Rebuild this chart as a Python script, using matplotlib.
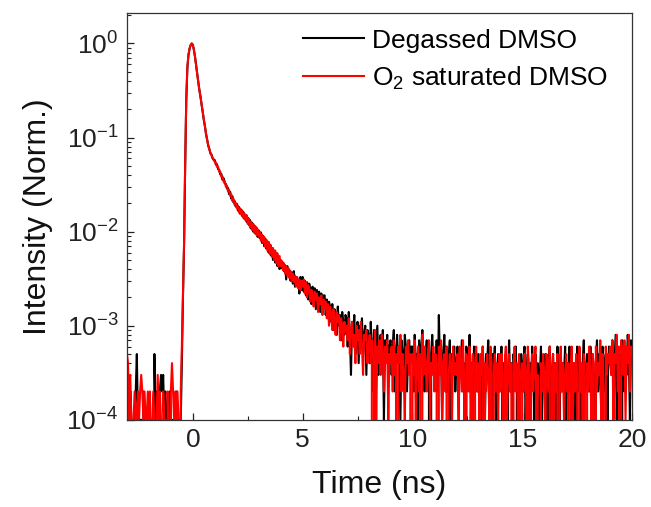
import numpy as np
import matplotlib
matplotlib.use("Agg")
import matplotlib.pyplot as plt
from matplotlib.ticker import LogLocator, MultipleLocator, NullFormatter

plt.rcParams["font.family"] = ["Liberation Sans", "DejaVu Sans"]
plt.rcParams["mathtext.fontset"] = "custom"
plt.rcParams["mathtext.rm"] = "Liberation Sans"
plt.rcParams["mathtext.it"] = "Liberation Sans:italic"
plt.rcParams["axes.unicode_minus"] = False

# TCSPC histogram, channel width 0.05 ns starting at -3 ns (counts)
t_start = -3.0
channel_ns = 0.05

degassed_counts = [
    1, 1, 0, 2, 1, 0, 1, 1, 2, 5, 1, 0, 1, 1, 0, 2, 1, 0, 1, 0,
    1, 0, 1, 1, 0, 5, 1, 2, 1, 0, 2, 3, 2, 3, 1, 2, 1, 0, 1, 2,
    1, 0, 1, 0, 1, 2, 0, 1, 1, 1, 4, 20, 70, 480, 2450, 5450, 7500, 8800, 9600, 10000,
    9680, 8530, 7170, 5830, 4690, 3830, 3170, 2720, 2230, 1870, 1530, 1320, 1090, 960, 820, 760, 680, 660, 600, 585,
    575, 515, 520, 462, 455, 405, 410, 356, 370, 326, 322, 288, 292, 250, 265, 224, 238, 204, 212, 185,
    198, 168, 183, 155, 172, 146, 162, 136, 151, 127, 141, 118, 133, 108, 124, 100, 116, 95, 110, 88,
    103, 85, 98, 76, 90, 70, 84, 66, 78, 60, 73, 56, 67, 50, 63, 47, 59, 43, 55, 40,
    50, 41, 47, 38, 44, 31, 43, 35, 39, 30, 37, 28, 38, 26, 33, 27, 31, 22, 33, 24,
    33, 23, 30, 21, 29, 19, 28, 24, 17, 26, 20, 25, 15, 24, 18, 23, 14, 22, 16, 21,
    21, 13, 19, 12, 18, 16, 11, 17, 9, 15, 14, 8, 16, 10, 13, 7, 14, 11, 8, 13,
    12, 6, 14, 8, 3, 11, 7, 13, 5, 9, 11, 4, 10, 7, 12, 5, 8, 10, 3, 9,
    8, 4, 11, 6, 2, 9, 5, 7, 10, 3, 6, 8, 4, 9, 1, 7, 5, 8, 3, 6,
    7, 3, 6, 9, 2, 5, 8, 4, 6, 1, 7, 5, 3, 8, 6, 2, 5, 7, 4, 6,
    6, 2, 8, 4, 5, 1, 7, 3, 6, 9, 4, 2, 5, 7, 3, 6, 0, 5, 8, 4,
    5, 3, 7, 2, 13, 4, 6, 1, 5, 8, 3, 6, 2, 4, 7, 0, 5, 3, 6, 2,
    4, 6, 1, 5, 3, 7, 2, 4, 0, 6, 5, 3, 8, 2, 4, 1, 6, 3, 5, 2,
    5, 2, 4, 0, 6, 3, 1, 5, 4, 7, 2, 3, 0, 5, 4, 6, 1, 3, 5, 2,
    3, 6, 1, 4, 2, 5, 0, 3, 7, 2, 4, 1, 5, 3, 6, 2, 0, 4, 3, 5,
    2, 4, 6, 1, 3, 5, 0, 4, 2, 6, 3, 1, 5, 2, 4, 0, 3, 6, 1, 4,
    3, 5, 2, 0, 4, 6, 1, 3, 5, 2, 4, 0, 6, 3, 1, 5, 2, 4, 3, 6,
    1, 4, 3, 6, 2, 5, 0, 4, 3, 1, 6, 2, 5, 3, 0, 4, 7, 2, 3, 5,
    4, 2, 6, 1, 5, 3, 0, 4, 7, 2, 5, 3, 1, 6, 4, 2, 5, 0, 3, 6,
    5, 3, 7, 2, 4, 8, 1, 6, 3, 5, 0, 7, 4, 2, 6, 3, 8, 5, 1, 7,
    6,
]

o2_counts = [
    5, 4, 1, 3, 1, 0, 1, 2, 1, 1, 2, 1, 2, 3, 2, 1, 2, 1, 1, 2,
    1, 2, 0, 1, 2, 1, 0, 1, 3, 1, 2, 1, 0, 2, 1, 1, 0, 2, 1, 0,
    2, 4, 2, 1, 2, 1, 2, 1, 0, 2, 6, 22, 75, 520, 2550, 5550, 7550, 8850, 9620, 10000,
    9690, 8490, 7220, 5790, 4710, 3810, 3190, 2690, 2260, 1840, 1560, 1290, 1110, 940, 840, 745, 695, 645, 615, 575,
    552, 540, 488, 490, 434, 436, 381, 388, 340, 346, 302, 309, 268, 278, 240, 249, 212, 224, 193, 202,
    178, 190, 160, 177, 152, 168, 140, 156, 132, 150, 121, 138, 111, 128, 104, 121, 97, 114, 92, 106,
    89, 100, 80, 93, 76, 88, 69, 82, 63, 78, 58, 72, 54, 67, 50, 63, 46, 59, 43, 55,
    43, 49, 39, 46, 36, 43, 34, 41, 32, 38, 30, 36, 29, 34, 26, 33, 25, 31, 24, 30,
    26, 31, 22, 29, 20, 27, 25, 18, 24, 21, 16, 23, 19, 22, 14, 20, 17, 21, 13, 19,
    15, 18, 12, 17, 10, 16, 13, 9, 15, 12, 8, 14, 11, 13, 7, 12, 10, 6, 11, 9,
    10, 7, 12, 5, 9, 11, 6, 8, 4, 10, 7, 9, 5, 11, 6, 3, 8, 7, 9, 4,
    6, 8, 4, 7, 0, 5, 9, 1, 6, 4, 7, 3, 8, 5, 2, 6, 4, 7, 1, 5,
    4, 6, 2, 7, 3, 5, 0, 6, 4, 8, 2, 5, 3, 1, 6, 4, 7, 3, 5, 0,
    5, 3, 7, 1, 4, 6, 2, 5, 0, 8, 3, 6, 4, 2, 5, 7, 1, 4, 3, 6,
    2, 5, 4, 0, 6, 3, 7, 1, 4, 5, 2, 6, 0, 3, 5, 4, 1, 6, 3, 4,
    3, 5, 1, 6, 4, 2, 7, 3, 0, 5, 4, 2, 6, 1, 3, 5, 0, 4, 6, 2,
    4, 1, 5, 3, 6, 0, 4, 2, 5, 3, 1, 6, 4, 0, 3, 5, 2, 4, 1, 5,
    2, 5, 3, 0, 4, 6, 1, 3, 5, 2, 4, 0, 3, 6, 2, 4, 1, 5, 3, 0,
    4, 2, 5, 3, 1, 6, 4, 0, 3, 5, 2, 4, 6, 1, 3, 0, 0, 4, 2, 5,
    3, 1, 5, 4, 2, 6, 0, 3, 5, 1, 4, 2, 5, 0, 3, 6, 2, 4, 1, 3,
    5, 2, 4, 0, 3, 6, 1, 4, 2, 5, 3, 0, 6, 2, 4, 1, 5, 3, 0, 4,
    2, 6, 3, 1, 5, 4, 0, 6, 2, 4, 3, 7, 1, 5, 2, 0, 6, 3, 5, 4,
    6, 3, 7, 1, 5, 4, 8, 2, 6, 0, 7, 5, 3, 7, 1, 6, 4, 8, 2, 6,
    5,
]

labels = ["Degassed DMSO", "O$_2$ saturated DMSO"]
colors = ["black", "red"]

#normalise each decay to its peak
series = []
for counts in [degassed_counts, o2_counts]:
    c = np.array(counts, dtype=float)
    time = t_start + channel_ns * np.arange(len(c))
    series.append((time, c / c.max()))

fig = plt.figure(figsize=(6.51, 5.07), dpi=100)
ax = fig.add_axes([0.195, 0.172, 0.776, 0.802])

for (time, inten), lab, col in zip(series, labels, colors):
    ax.plot(time, inten, color=col, lw=1.5, label=lab)

ax.set_yscale("log", nonpositive="clip")
ax.set_xlim(-3, 20)
ax.set_ylim(1e-4, 2.1)
ax.xaxis.set_major_locator(MultipleLocator(5))
ax.xaxis.set_minor_locator(MultipleLocator(2.5))
ax.yaxis.set_major_locator(LogLocator(base=10, numticks=10))
ax.yaxis.set_minor_locator(LogLocator(base=10, subs=np.arange(2, 10), numticks=10))
ax.yaxis.set_minor_formatter(NullFormatter())

ax.tick_params(which="both", direction="in", top=False, right=False,
               labelsize=19, colors="#222222", pad=6)
ax.tick_params(which="major", length=5, width=0.9)
ax.tick_params(which="minor", length=3, width=0.8)
for sp in ax.spines.values():
    sp.set_color("#333333")
    sp.set_linewidth(0.9)

ax.set_xlabel("Time (ns)", fontsize=23, color="#111111", labelpad=13)
ax.set_ylabel("Intensity (Norm.)", fontsize=23, color="#111111", labelpad=10)

leg = ax.legend(loc="upper left", bbox_to_anchor=(0.349, 0.962), frameon=False,
                fontsize=19, handlelength=2.3, handletextpad=0.3, labelspacing=0.45,
                borderpad=0, borderaxespad=0)
for line in leg.get_lines():
    line.set_linewidth(1.5)

fig.savefig("out.png", dpi=100)
